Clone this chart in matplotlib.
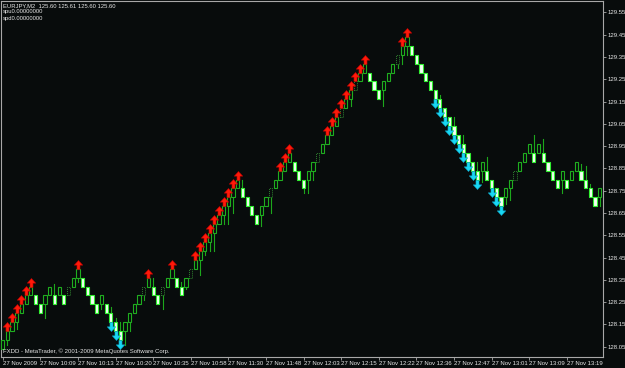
import matplotlib
matplotlib.use("Agg")
import matplotlib.pyplot as plt
from matplotlib.path import Path
from matplotlib.patches import Rectangle

# renko bricks: bottom price and direction (1 = up brick, -1 = down brick)
brick_low = [
    128.04, 128.08, 128.12, 128.16, 128.20, 128.24, 128.28, 128.24, 128.20, 128.24,
    128.28, 128.24, 128.28, 128.24, 128.28, 128.32, 128.36, 128.32, 128.28, 128.24,
    128.20, 128.24, 128.20, 128.16, 128.12, 128.08, 128.12, 128.16, 128.20, 128.24,
    128.28, 128.32, 128.28, 128.24, 128.28, 128.32, 128.36, 128.32, 128.28, 128.32,
    128.36, 128.40, 128.44, 128.48, 128.52, 128.56, 128.60, 128.64, 128.68, 128.72,
    128.76, 128.72, 128.68, 128.64, 128.60, 128.64, 128.68, 128.72, 128.76, 128.80,
    128.84, 128.88, 128.84, 128.80, 128.76, 128.80, 128.84, 128.88, 128.92, 128.96,
    129.00, 129.04, 129.08, 129.12, 129.16, 129.20, 129.24, 129.28, 129.24, 129.20,
    129.16, 129.20, 129.24, 129.28, 129.32, 129.36, 129.40, 129.36, 129.32, 129.28,
    129.24, 129.20, 129.16, 129.12, 129.08, 129.04, 129.00, 128.96, 128.92, 128.88,
    128.84, 128.80, 128.84, 128.80, 128.76, 128.72, 128.68, 128.72, 128.76, 128.80,
    128.84, 128.88, 128.92, 128.88, 128.92, 128.88, 128.84, 128.80, 128.76, 128.80,
    128.76, 128.80, 128.84, 128.80, 128.76, 128.72, 128.68, 128.72,
]
brick_dir = [
    1, 1, 1, 1, 1, 1, 1, -1, -1, 1,
    1, -1, 1, -1, 1, 1, 1, -1, -1, -1,
    -1, 1, -1, -1, -1, -1, 1, 1, 1, 1,
    1, 1, -1, -1, 1, 1, 1, -1, -1, 1,
    1, 1, 1, 1, 1, 1, 1, 1, 1, 1,
    1, -1, -1, -1, -1, 1, 1, 1, 1, 1,
    1, 1, -1, -1, -1, 1, 1, 1, 1, 1,
    1, 1, 1, 1, 1, 1, 1, 1, -1, -1,
    -1, 1, 1, 1, 1, 1, 1, -1, -1, -1,
    -1, -1, -1, -1, -1, -1, -1, -1, -1, -1,
    -1, -1, 1, -1, -1, -1, -1, 1, 1, 1,
    1, 1, 1, -1, 1, -1, -1, -1, -1, 1,
    -1, 1, 1, -1, -1, -1, -1, 1,
]
brick_size = 0.04

# shadows that stick out of the bricks (bar index: price)
wick_high = {11: 128.33, 23: 128.23, 24: 128.18, 25: 128.16, 32: 128.36, 38: 128.34,
             51: 128.80, 93: 129.18, 96: 129.08, 98: 129.00, 101: 128.88, 103: 128.90,
             113: 129.00, 115: 128.98, 123: 128.87, 124: 128.86, 125: 128.78}
wick_low = {1: 128.06, 3: 128.13, 9: 128.18, 16: 128.34, 21: 128.22, 26: 128.06,
            27: 128.12, 30: 128.26, 34: 128.22, 39: 128.31, 42: 128.37, 43: 128.46,
            44: 128.48, 45: 128.48, 47: 128.60, 48: 128.60, 49: 128.65, 55: 128.59,
            57: 128.65, 64: 128.74, 65: 128.74, 66: 128.80, 74: 129.13, 81: 129.13,
            84: 129.30, 85: 129.32, 86: 129.36, 102: 128.79, 107: 128.69, 108: 128.71,
            119: 128.74, 127: 128.68}

faded = [14, 30, 34, 40, 57, 67, 72, 75, 84, 109]

up_signals = [1, 2, 3, 4, 5, 6, 16, 31, 36, 41, 42, 43, 44, 45, 46, 47, 48, 49, 50,
              59, 60, 61, 69, 70, 71, 72, 73, 74, 75, 76, 77, 85, 86]
down_signals = [23, 24, 25, 92, 93, 94, 95, 96, 97, 98, 99, 100, 101, 104, 105, 106]

time_ticks = [0, 8, 16, 24, 32, 40, 48, 56, 64, 72, 80, 88, 96, 104, 112, 120]
time_labels = ["27 Nov 2009", "27 Nov 10:09", "27 Nov 10:13", "27 Nov 10:20",
               "27 Nov 10:35", "27 Nov 10:58", "27 Nov 11:30", "27 Nov 11:48",
               "27 Nov 12:03", "27 Nov 12:15", "27 Nov 12:22", "27 Nov 12:36",
               "27 Nov 12:47", "27 Nov 13:01", "27 Nov 13:09", "27 Nov 13:19"]
price_ticks = [128.05, 128.15, 128.25, 128.35, 128.45, 128.55, 128.65, 128.75,
               128.85, 128.95, 129.05, 129.15, 129.25, 129.35, 129.45, 129.55]

BG = "#080c0c"
FONT = "Liberation Sans"
TXT = "#e6e6e6"

fig = plt.figure(figsize=(6.25, 3.68), dpi=100, facecolor=BG)
ax = fig.add_axes([1 / 625, 1 - 357 / 368, 602 / 625, 356 / 368], facecolor=BG)

w = 0.68
for i, (lo, d) in enumerate(zip(brick_low, brick_dir)):
    hi = lo + brick_size
    if i in wick_high:
        ax.plot([i, i], [hi, wick_high[i]], color="#1ca81c", lw=0.8, zorder=2)
    if i in wick_low:
        ax.plot([i, i], [wick_low[i], lo], color="#1ca81c", lw=0.8, zorder=2)
    if d > 0:
        if i in faded:
            ax.add_patch(Rectangle((i - w / 2, lo), w, brick_size, facecolor=BG,
                                   edgecolor="#2f7f2f", lw=0.7, ls=(0, (1, 1)), zorder=3))
        else:
            ax.add_patch(Rectangle((i - w / 2, lo), w, brick_size, facecolor=BG,
                                   edgecolor="#1fae1f", lw=0.8, zorder=3))
    else:
        ax.add_patch(Rectangle((i - w / 2, lo), w, brick_size, facecolor="#f4fff4",
                               edgecolor="#30f030", lw=0.8, zorder=3))

# arrow glyphs, anchored at the base
up_arrow = Path([(-0.17, 0), (0.17, 0), (0.17, 0.48), (0.47, 0.48), (0, 1),
                 (-0.47, 0.48), (-0.17, 0.48), (-0.17, 0)], closed=True)
down_arrow = Path([(x, -y) for x, y in up_arrow.vertices], closed=True)

ux = up_signals
uy = [max(brick_low[i] + brick_size, wick_high.get(i, 0)) for i in ux]
ax.plot(ux, uy, ls="none", marker=up_arrow, ms=13, mfc="#ff1a0a", mec="#b80000",
        mew=0.4, zorder=5)
dx = down_signals
dy = [min(brick_low[i], wick_low.get(i, 999)) for i in dx]
ax.plot(dx, dy, ls="none", marker=down_arrow, ms=13, mfc="#18d8f4", mec="#0a9cbc",
        mew=0.4, zorder=5)

ax.set_xlim(-0.36, 127.7)
ax.set_ylim(128.004, 129.601)

for s in ax.spines.values():
    s.set_color("#a8a8a8")
    s.set_linewidth(0.8)

ax.yaxis.tick_right()
ax.set_yticks(price_ticks)
ax.set_yticklabels(["%.2f" % p for p in price_ticks], fontfamily=FONT)
ax.set_xticks(time_ticks)
ax.set_xticklabels(time_labels, fontfamily=FONT, ha="left")
ax.tick_params(axis="y", colors="#a8a8a8", labelcolor=TXT, labelsize=4.3,
               length=2, width=0.6, pad=1.2)
ax.tick_params(axis="x", colors="#a8a8a8", labelcolor=TXT, labelsize=4.3,
               length=2, width=0.6, pad=1.0)

fig.text(3 / 625, 1 - 5.5 / 368, "EURJPY,M2  125.60 125.61 125.60 125.60",
         color=TXT, fontsize=4.2, family=FONT, va="center")
fig.text(3 / 625, 1 - 12 / 368, "spu0.00000000", color=TXT, fontsize=4.2,
         family=FONT, va="center")
fig.text(3 / 625, 1 - 18.5 / 368, "spd0.00000000", color=TXT, fontsize=4.2,
         family=FONT, va="center")
fig.text(3 / 625, 1 - 351.5 / 368,
         "FXDD - MetaTrader, \u00a9 2001-2009 MetaQuotes Software Corp.",
         color=TXT, fontsize=4.3, family=FONT, va="center")

fig.savefig("out.png", dpi=100, facecolor=BG)
